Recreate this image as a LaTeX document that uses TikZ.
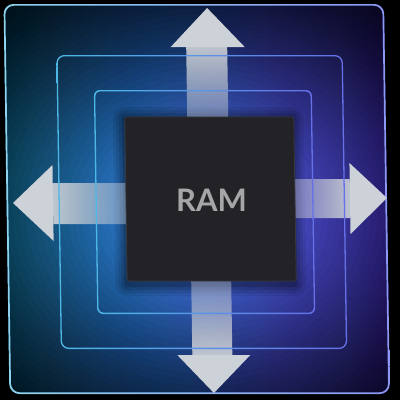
\documentclass[tikz,border=0pt]{standalone}
\usepackage{fontspec}
\setmainfont{Lato}
\usetikzlibrary{fadings}
\definecolor{bgL}{HTML}{1C92C8}
\definecolor{bgM}{HTML}{2056AC}
\definecolor{bgR}{HTML}{583CD2}
\definecolor{lnL}{HTML}{4DB8E6}
\definecolor{lnR}{HTML}{6670E8}
\definecolor{frL}{HTML}{8ED4EE}
\definecolor{frR}{HTML}{8C98F4}
\definecolor{arrowc}{HTML}{CDD1D8}
\definecolor{chipc}{HTML}{232327}
\definecolor{ramc}{HTML}{A6A6A8}
\tikzfading[name=fadeUp, top color=transparent!8, bottom color=transparent!62]
\tikzfading[name=fadeDown, top color=transparent!62, bottom color=transparent!8]
\tikzfading[name=fadeLeft, left color=transparent!8, right color=transparent!62]
\tikzfading[name=fadeRight, left color=transparent!62, right color=transparent!8]
\tikzset{
  framering/.style={left color=frL, right color=frR, even odd rule},
  linering/.style={left color=lnL, right color=lnR, even odd rule},
  headfill/.style={fill=arrowc},
  shaftfill/.style={fill=arrowc},
  ramtext/.style={text=ramc, font=\fontsize{31}{31}\selectfont\bfseries, inner sep=0pt}
}
\begin{document}
\begin{tikzpicture}[x=1pt,y=-1pt]
\useasboundingbox (0,0) rectangle (400,400);
\fill[black] (0,0) rectangle (400,400);
\begin{scope}[cm={1,0,-0.015,1,(-3pt,0pt)}]
  % background glow
  \begin{scope}
    \clip[rounded corners=10] (6.5,4) rectangle (387,394);
    \shade[left color=bgL, middle color=bgM, right color=bgR] (6.5,4) rectangle (387,394);
    \foreach \k in {0,...,39} {
      \pgfmathsetmacro\rr{60+6*\k}
      \pgfmathsetmacro\rx{1.15*\rr}
      \pgfmathsetmacro\oo{0.022+0.0017*\k}
      \fill[black, fill opacity=\oo, even odd rule] (-50,-50) rectangle (450,450)
        (205,212) ellipse[x radius=\rx, y radius=\rr];
    }
  \end{scope}
  % chip shadow
  \foreach \d/\o in {12/0.08, 9/0.10, 6/0.13, 3/0.18} {
    \fill[black, opacity=\o, rounded corners=\d] ({126-\d},{117-\d+2}) rectangle ({295+\d-2},{281+\d+3});
  }
  % shafts
  \fill[shaftfill, path fading=fadeUp] (188.5,47) rectangle (229.5,117);
  \fill[shaftfill, path fading=fadeDown] (190,281) rectangle (230,355);
  \fill[shaftfill, path fading=fadeLeft] (53,183) rectangle (126,224);
  \fill[shaftfill, path fading=fadeRight] (295,179) rectangle (350,218);
  % rings
  \shade[framering] [rounded corners=10] (6.5,4) rectangle (387,394)
                    [rounded corners=8.5] (8.2,5.7) rectangle (385.3,392.3);
  \shade[linering] [rounded corners=8] (58.5,55) rectangle (345,349)
                   [rounded corners=6.8] (59.8,56.3) rectangle (343.7,347.7);
  \shade[linering] [rounded corners=6] (95.5,90) rectangle (313.5,314)
                   [rounded corners=4.8] (96.8,91.3) rectangle (312.2,312.7);
  % heads
  \fill[headfill] (173,47) -- (210,8) -- (247,47) -- cycle;
  \fill[headfill] (175,355) -- (211,393) -- (248,355) -- cycle;
  \fill[headfill] (53,165) -- (13,203) -- (53,241) -- cycle;
  \fill[headfill] (350,163) -- (387,198) -- (350,234) -- cycle;
  % chip
  \fill[chipc, draw=white!10!chipc, line width=0.8, rounded corners=1.5] (126,117) rectangle (295,281);
  \node[ramtext] (ram) at (211.5,200.5) {RAM};
\end{scope}
\end{tikzpicture}
\end{document}
